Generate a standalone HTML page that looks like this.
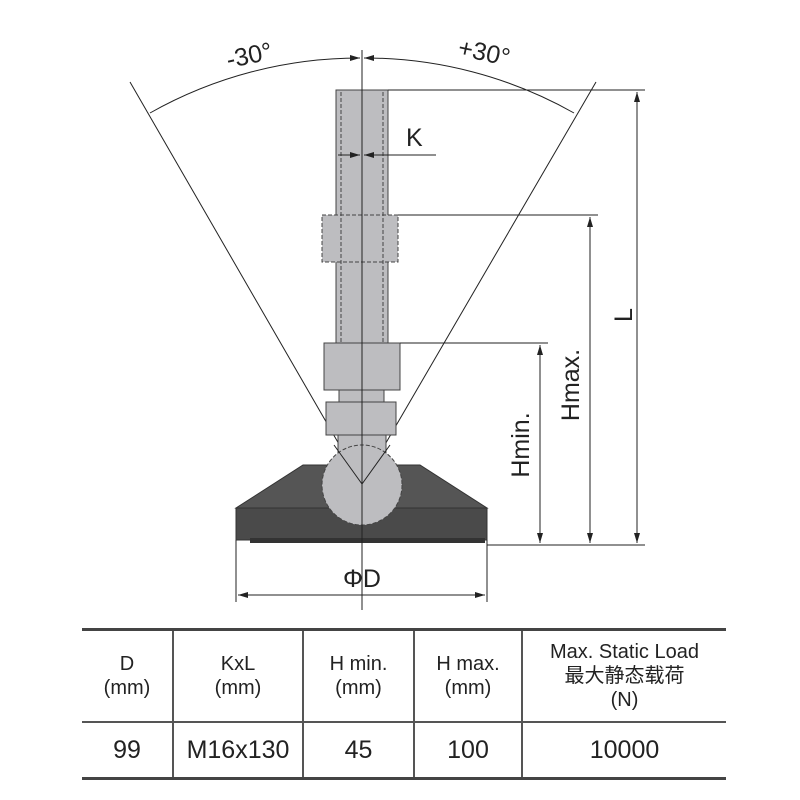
<!DOCTYPE html>
<html><head><meta charset="utf-8"><style>
body{margin:0;background:#fff;width:800px;height:800px;overflow:hidden;font-family:"Liberation Sans","Noto Sans CJK SC",sans-serif;}
table{position:absolute;left:82px;top:628px;border-collapse:collapse;color:#222;}
td{border:2px solid #555;text-align:center;padding:0;}
tr.h td{height:90px;font-size:20px;line-height:24px;}
tr.d td{height:54px;font-size:25px;}
table{border-top:3px solid #444;border-bottom:3px solid #444;}
</style></head><body>
<svg width="800" height="620" style="position:absolute;left:0;top:0" font-family="Liberation Sans, sans-serif">
<defs><marker id="a" markerWidth="10" markerHeight="6" refX="10" refY="3" orient="auto-start-reverse" markerUnits="userSpaceOnUse"><path d="M0,0 L10,3 L0,6z" fill="#222"/></marker></defs>
<g stroke="#222" stroke-width="1" fill="none">
<line x1="362" y1="484" x2="130" y2="82"/>
<line x1="362" y1="484" x2="596" y2="82"/>
<path d="M150,113 A426,426 0 0 1 360,58" marker-end="url(#a)"/>
<path d="M574,113 A426,426 0 0 0 364,58" marker-end="url(#a)"/>
</g>
<polygon points="303,465 420,465 487,508 236,508" fill="#555" stroke="#333"/>
<rect x="236" y="508" width="251" height="32" fill="#4a4a4a" stroke="#333"/>
<rect x="250" y="538" width="235" height="5" fill="#333"/>
<g fill="#bdbdc0" stroke="#444">
<rect x="336" y="90" width="52" height="260"/>
<rect x="322" y="215" width="76" height="47" stroke-dasharray="4,2"/>
<rect x="339" y="388" width="45" height="16"/>
<rect x="326" y="402" width="70" height="33"/>
<rect x="338" y="435" width="48" height="22"/>
<rect x="324" y="343" width="76" height="47"/>
<circle cx="362" cy="485" r="40" stroke-dasharray="4,2"/>
</g>
<g stroke="#444" fill="none" stroke-dasharray="4,2">
<line x1="341" y1="92" x2="341" y2="343"/><line x1="383" y1="92" x2="383" y2="343"/>
</g>
<g stroke="#222" fill="none">
<line x1="334" y1="445" x2="362" y2="484"/><line x1="390" y1="445" x2="362" y2="484"/>
<line x1="362" y1="50" x2="362" y2="610"/>
<line x1="388" y1="90" x2="645" y2="90"/>
<line x1="398" y1="215" x2="598" y2="215"/>
<line x1="400" y1="343" x2="548" y2="343"/>
<line x1="487" y1="545" x2="645" y2="545"/>
<line x1="637" y1="92" x2="637" y2="543" marker-start="url(#a)" marker-end="url(#a)"/>
<line x1="590" y1="217" x2="590" y2="543" marker-start="url(#a)" marker-end="url(#a)"/>
<line x1="540" y1="345" x2="540" y2="543" marker-start="url(#a)" marker-end="url(#a)"/>
<line x1="236" y1="540" x2="236" y2="602"/><line x1="487" y1="540" x2="487" y2="602"/>
<line x1="238" y1="595" x2="485" y2="595" marker-start="url(#a)" marker-end="url(#a)"/>
<line x1="338" y1="155" x2="360" y2="155" marker-end="url(#a)"/>
<line x1="386" y1="155" x2="364" y2="155" marker-end="url(#a)"/>
<line x1="386" y1="155" x2="436" y2="155"/>
</g>
<g fill="#222" font-size="25">
<text x="226" y="64" transform="rotate(-12 248 55)">-30°</text>
<text x="458" y="60" transform="rotate(12 480 52)">+30°</text>
<text x="406" y="146">K</text>
<text x="362" y="587" text-anchor="middle">ΦD</text>
<text transform="translate(632,315) rotate(-90)" text-anchor="middle">L</text>
<text transform="translate(579,385) rotate(-90)" text-anchor="middle">Hmax.</text>
<text transform="translate(529,445) rotate(-90)" text-anchor="middle">Hmin.</text>
</g>
</svg>
<table>
<tr class="h"><td style="width:90px;border-left:none">D<br>(mm)</td><td style="width:128px">KxL<br>(mm)</td><td style="width:109px">H min.<br>(mm)</td><td style="width:106px">H max.<br>(mm)</td><td style="width:203px;border-right:none">Max. Static Load<br>最大静态载荷<br>(N)</td></tr>
<tr class="d"><td style="border-left:none">99</td><td>M16x130</td><td>45</td><td>100</td><td style="border-right:none">10000</td></tr>
</table>
</body></html>
